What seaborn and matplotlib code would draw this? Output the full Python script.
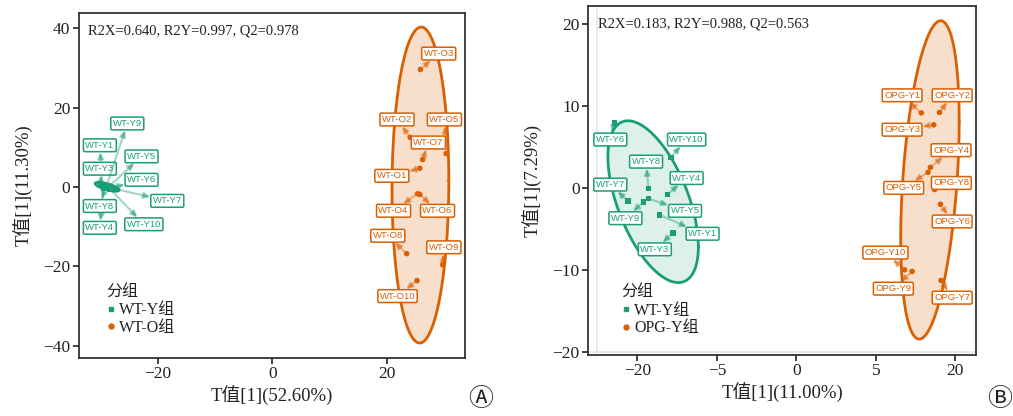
import numpy as np, pandas as pd
import matplotlib; matplotlib.use("Agg")
import matplotlib.pyplot as plt
import seaborn as sns
from matplotlib.lines import Line2D

GREEN = "#1B9E77"; ORANGE = "#D95F02"
INK = "#222222"

# ---- panel A: WT-Y vs WT-O ----
a_y_names = ["WT-Y1", "WT-Y2", "WT-Y3", "WT-Y4", "WT-Y5", "WT-Y6", "WT-Y7", "WT-Y8", "WT-Y9", "WT-Y10"]
a_y_t1 = [-29.8, -29.3, -30.0, -29.6, -28.6, -28.0, -27.6, -29.2, -29.0, -28.4]
a_y_t2 = [0.6, 0.4, 0.5, -0.4, 0.1, -0.2, -0.5, -0.2, 0.3, -0.5]
a_o_names = ["WT-O1", "WT-O2", "WT-O3", "WT-O4", "WT-O5", "WT-O6", "WT-O7", "WT-O8", "WT-O9", "WT-O10"]
a_o_t1 = [25.8, 24.1, 25.9, 25.4, 30.4, 25.8, 26.3, 23.5, 29.8, 25.3]
a_o_t2 = [4.7, 12.5, 29.6, -1.7, 8.4, -1.9, 6.9, -16.8, -19.6, -23.6]
a_stats = "R2X=0.640, R2Y=0.997, Q2=0.978"
a_groups = ["WT-Y组", "WT-O组"]

# ---- panel B: WT-Y vs OPG-Y ----
b_y_names = ["WT-Y1", "WT-Y2", "WT-Y3", "WT-Y4", "WT-Y5", "WT-Y6", "WT-Y7", "WT-Y8", "WT-Y9", "WT-Y10"]
b_y_t1 = [-8.6, -8.2, -7.75, -8.1, -9.3, -11.45, -10.6, -9.3, -9.6, -7.9]
b_y_t2 = [-3.3, -7.8, -5.5, -0.8, -1.3, 7.9, -1.6, -0.1, -1.7, 3.7]
b_o_names = ["OPG-Y1", "OPG-Y2", "OPG-Y3", "OPG-Y4", "OPG-Y5", "OPG-Y6", "OPG-Y7", "OPG-Y8", "OPG-Y9", "OPG-Y10"]
b_o_t1 = [7.86, 9.0, 8.64, 8.43, 8.28, 9.06, 9.1, 8.7, 7.28, 6.8]
b_o_t2 = [9.15, 9.2, 7.7, 2.5, 1.9, -2.0, -11.3, -0.2, -10.2, -10.0]
b_stats = "R2X=0.183, R2Y=0.988, Q2=0.563"
b_groups = ["WT-Y组", "OPG-Y组"]

# label placement (ggrepel-like), data coords of label centres; WT-Y2 labels were dropped
a_labels = {"WT-Y1": (-30.2, 10.5), "WT-Y3": (-30.2, 4.6), "WT-Y4": (-30.2, -10.3), "WT-Y5": (-22.9, 7.7),
            "WT-Y6": (-22.9, 1.8), "WT-Y7": (-18.4, -3.5), "WT-Y8": (-30.2, -4.8), "WT-Y9": (-25.4, 16.0),
            "WT-Y10": (-22.5, -9.4),
            "WT-O1": (20.9, 2.8), "WT-O2": (21.8, 17.0), "WT-O3": (29.1, 33.6), "WT-O4": (21.2, -6.0),
            "WT-O5": (30.1, 17.0), "WT-O6": (28.9, -6.0), "WT-O7": (27.3, 11.2), "WT-O8": (20.2, -12.3),
            "WT-O9": (30.0, -15.2), "WT-O10": (21.9, -27.5)}
b_labels = {"WT-Y6": (-11.7, 5.9), "WT-Y10": (-6.9, 5.9), "WT-Y8": (-9.45, 3.2), "WT-Y4": (-6.9, 1.2),
            "WT-Y7": (-11.7, 0.4), "WT-Y5": (-7.0, -2.8), "WT-Y9": (-10.75, -3.7), "WT-Y1": (-5.9, -5.6),
            "WT-Y3": (-8.9, -7.5),
            "OPG-Y1": (6.65, 11.3), "OPG-Y2": (9.8, 11.3), "OPG-Y3": (6.65, 7.1), "OPG-Y4": (9.73, 4.6),
            "OPG-Y5": (6.75, 0.0), "OPG-Y8": (9.75, 0.6), "OPG-Y6": (9.8, -4.1), "OPG-Y10": (5.6, -7.9),
            "OPG-Y9": (6.1, -12.3), "OPG-Y7": (9.8, -13.4)}


def cov_trob(xy, nu=5, maxit=25, tol=0.01):
    # port of MASS::cov.trob (what stat_ellipse type="t" uses)
    n, p = xy.shape
    loc = xy.mean(0); w = np.ones(n)
    for _ in range(maxit):
        w0 = w
        X = xy - loc
        _, d, vt = np.linalg.svd(np.sqrt(w / w.sum())[:, None] * X, full_matrices=False)
        Q = ((X @ vt.T / d) ** 2).sum(1)
        w = (nu + p) / (nu + Q)
        loc = (w[:, None] * xy).sum(0) / w.sum()
        if np.all(np.abs(w - w0) < tol):
            break
    sX = np.sqrt(w)[:, None] * X
    return loc, sX.T @ sX / n


def ellipse(x, y, level=0.95):
    xy = np.column_stack([x, y])
    center, shape = cov_trob(xy)
    d2 = len(x) - 1
    radius = np.sqrt(2 * d2 / 2 * ((1 - level) ** (-2 / d2) - 1))   # sqrt(2 * qf(level, 2, n-1))
    ang = np.linspace(0, 2 * np.pi, 200)
    circ = np.column_stack([np.cos(ang), np.sin(ang)])
    return center + radius * circ @ np.linalg.cholesky(shape).T


def panel(ax, names1, x1, y1, names2, x2, y2, groups, labels, stats):
    df = pd.DataFrame({"t1": x1 + x2, "t2": y1 + y2,
                       "group": [groups[0]] * len(x1) + [groups[1]] * len(x2)})
    for (xs, ys, col, fa) in [(x2, y2, ORANGE, 0.2), (x1, y1, GREEN, 0.15)]:
        e = ellipse(np.array(xs), np.array(ys))
        ax.fill(e[:, 0], e[:, 1], color=col, alpha=fa, lw=0, zorder=1)
        ax.plot(e[:, 0], e[:, 1], color=col, lw=2.0, zorder=2)
    sns.scatterplot(data=df, x="t1", y="t2", hue="group", style="group",
                    palette={groups[0]: GREEN, groups[1]: ORANGE},
                    markers={groups[0]: "s", groups[1]: "o"}, s=16, linewidth=0,
                    legend=False, ax=ax, zorder=3)
    for names, xs, ys, col in [(names1, x1, y1, GREEN), (names2, x2, y2, ORANGE)]:
        for nm, px, py in zip(names, xs, ys):
            if nm not in labels:
                continue
            ax.annotate(nm, xy=(px, py), xytext=labels[nm], ha="center", va="center",
                        fontsize=6.8, family="Liberation Sans", color=col, zorder=5,
                        bbox=dict(boxstyle="round,pad=0.2,rounding_size=0.15", fc="white", ec=col, lw=1.1),
                        arrowprops=dict(arrowstyle="<|-", color=col, alpha=0.42, lw=1.5,
                                        mutation_scale=9, shrinkA=0, shrinkB=2))
    ax.text(0.025, 0.947, stats, transform=ax.transAxes, fontsize=10.5, color=INK, va="center")
    handles = [Line2D([], [], ls="", marker="s", color=GREEN, markersize=3.2),
               Line2D([], [], ls="", marker="o", color=ORANGE, markersize=3.5)]
    return handles


sns.set_style("ticks")
plt.rcParams["font.family"] = ["Liberation Serif", "Noto Sans CJK SC"]
plt.rcParams["axes.unicode_minus"] = True

fig = plt.figure(figsize=(10.13, 4.16), dpi=100)
axA = fig.add_axes([0.0777, 0.1394, 0.3813, 0.830])
axB = fig.add_axes([0.5805, 0.1466, 0.3830, 0.839])

hA = panel(axA, a_y_names, a_y_t1, a_y_t2, a_o_names, a_o_t1, a_o_t2, a_groups, a_labels, a_stats)
hB = panel(axB, b_y_names, b_y_t1, b_y_t2, b_o_names, b_o_t1, b_o_t2, b_groups, b_labels, b_stats)

axA.set_xlim(-33.9, 33.7); axA.set_ylim(-43.1, 43.9)
axA.set_xticks([-20, 0, 20]); axA.set_yticks([-40, -20, 0, 20, 40])
axB.set_xlim(-13.1, 11.3); axB.set_ylim(-20.4, 22.2)
axB.set_xticks([-10, -5, 0, 5, 10]); axB.set_xticklabels(["\u221220", "\u22125", "0", "5", "20"])
axB.set_yticks([-20, -10, 0, 10, 20])
# faint inner panel border of panel B
axB.plot([0.023, 0.023], [0, 1], transform=axB.transAxes, color="#E6E6E6", lw=1.2, zorder=0)
axB.plot([0, 1], [0.009, 0.009], transform=axB.transAxes, color="#E6E6E6", lw=1.2, zorder=0)

for ax, xl, yl, hs, grp, anc in [(axA, "T值[1](52.60%)", "T值[1](11.30%)", hA, a_groups, (0.055, 0.045)),
                                (axB, "T值[1](11.00%)", "T值[1](7.29%)", hB, b_groups, (0.07, 0.035))]:
    for sp in ax.spines.values():
        sp.set_color("#333333"); sp.set_linewidth(1.3)
    ax.tick_params(axis="both", length=4, width=1.3, color="#333333", labelsize=12.5,
                   labelcolor=INK, pad=2)
    ax.set_xlabel(xl, fontsize=13.5, color=INK, labelpad=2)
    ax.set_ylabel(yl, fontsize=13.5, color=INK, labelpad=8)
    leg = ax.legend(hs, grp, title="分组", loc="lower left", bbox_to_anchor=anc, frameon=False,
                    fontsize=11.5, title_fontsize=11.5, handlelength=0.6, handletextpad=0.2,
                    labelspacing=0.1, borderaxespad=0)
    leg._legend_box.align = "left"
    for t in leg.get_texts():
        t.set_color(INK)
    leg.get_title().set_color(INK)

fig.text(481 / 1013, 1 - 399 / 416, "Ⓐ", fontsize=18, ha="center", va="center",
         family=["DejaVu Serif", "DejaVu Sans", "Noto Sans CJK SC"], color=INK)
fig.text(1000 / 1013, 1 - 399 / 416, "Ⓑ", fontsize=18, ha="center", va="center",
         family=["DejaVu Serif", "DejaVu Sans", "Noto Sans CJK SC"], color=INK)

fig.savefig("out.png", dpi=100)
